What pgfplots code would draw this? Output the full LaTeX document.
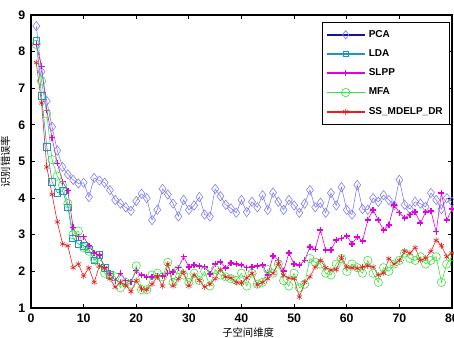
\documentclass[border=0pt]{standalone}
\usepackage{fontspec}
\setmainfont{Liberation Sans}
\newfontfamily\cjk{Noto Sans CJK SC}
\usepackage{pgfplots}
\pgfplotsset{compat=1.18}
\usepackage{pgfplotstable}
\definecolor{pcac}{RGB}{125,125,250}
\definecolor{pcad}{RGB}{20,20,140}
\definecolor{ldac}{RGB}{30,150,190}
\definecolor{ldad}{RGB}{20,60,150}
\definecolor{slppc}{RGB}{225,0,225}
\definecolor{mfac}{RGB}{60,225,60}
\definecolor{ssc}{RGB}{230,30,30}
\pgfplotstableread{
x y
1 8.7
2 7.45
3 6.65
4 5.95
5 5.3
6 4.85
7 4.65
8 4.5
9 4.4
10 4.42
11 4.03
12 4.55
13 4.48
14 4.42
15 4.22
16 3.95
17 3.85
18 3.75
19 3.65
20 3.92
21 4.12
22 4.0
23 3.4
24 3.68
25 4.25
26 4.1
27 3.85
28 3.5
29 3.95
30 3.68
31 3.8
32 4.03
33 3.55
34 3.5
35 4.25
36 4.05
37 3.82
38 3.72
39 3.6
40 3.95
41 3.62
42 3.9
43 3.75
44 4.08
45 3.68
46 4.15
47 3.9
48 3.68
49 3.95
50 3.8
51 3.6
52 3.85
53 4.22
54 3.75
55 3.87
56 3.6
57 4.14
58 3.8
59 4.3
60 3.68
61 3.55
62 4.36
63 3.7
64 3.68
65 4.0
66 3.9
67 4.08
68 3.95
69 3.8
70 4.5
71 3.82
72 3.7
73 3.9
74 3.85
75 3.76
76 4.14
77 3.95
78 3.7
79 4.0
80 3.9
}\pca
\pgfplotstableread{
x y
1 8.3
2 6.8
3 5.4
4 4.45
5 4.15
6 4.2
7 3.75
8 2.9
9 2.75
10 2.7
11 2.6
12 2.3
13 2.45
14 2.1
15 1.9
}\lda
\pgfplotstableread{
x y
1 8.2
2 7.6
3 6.4
4 5.65
5 4.95
6 4.45
7 4.2
8 3.2
9 2.95
10 2.95
11 2.7
12 2.5
13 2.45
14 2.1
15 1.95
16 1.75
17 1.95
18 1.75
19 1.72
20 2.02
21 1.9
22 1.85
23 1.85
24 1.87
25 1.87
26 1.95
27 1.98
28 2.1
29 2.4
30 2.12
31 2.17
32 2.15
33 2.12
34 1.93
35 2.2
36 2.26
37 2.09
38 2.23
39 2.2
40 2.17
41 2.1
42 2.12
43 2.15
44 2.17
45 1.9
46 2.42
47 2.3
48 2.01
49 2.5
50 2.2
51 2.17
52 2.3
53 2.67
54 2.6
55 3.13
56 2.58
57 2.58
58 2.86
59 2.9
60 2.97
61 2.75
62 2.94
63 2.83
64 3.4
65 3.68
66 3.4
67 3.13
68 3.27
69 3.81
70 3.6
71 3.46
72 3.55
73 3.62
74 3.32
75 3.62
76 3.65
77 3.08
78 4.14
79 3.4
80 3.7
}\slpp
\pgfplotstableread{
x y
1 8.2
2 7.2
3 6.3
4 5.05
5 4.6
6 4.35
7 3.85
8 3.0
9 3.1
10 2.65
11 2.55
12 2.35
13 2.2
14 1.95
15 1.9
16 1.85
17 1.55
18 1.7
19 1.65
20 2.15
21 1.5
22 1.5
23 1.9
24 1.95
25 1.85
26 2.25
27 1.7
28 2.05
29 1.9
30 1.7
31 1.95
32 1.75
33 2.0
34 1.6
35 2.05
36 1.9
37 1.85
38 1.8
39 1.75
40 1.95
41 1.6
42 1.95
43 1.65
44 1.7
45 2.05
46 1.95
47 2.2
48 1.75
49 1.6
50 1.95
51 1.55
52 1.65
53 2.35
54 2.25
55 2.2
56 1.95
57 1.9
58 2.2
59 2.35
60 2.0
61 2.2
62 2.1
63 1.95
64 2.3
65 1.95
66 1.7
67 2.1
68 2.0
69 2.2
70 2.3
71 2.5
72 2.35
73 2.3
74 2.4
75 2.2
76 2.3
77 2.4
78 1.7
79 2.2
80 2.4
}\mfa
\pgfplotstableread{
x y
1 7.7
2 6.6
3 4.85
4 4.1
5 3.35
6 2.75
7 2.7
8 2.1
9 2.2
10 1.87
11 2.1
12 1.7
13 2.15
14 2.1
15 1.8
16 1.57
17 1.7
18 1.62
19 1.45
20 1.75
21 1.52
22 1.5
23 1.65
24 1.85
25 1.6
26 2.2
27 1.6
28 1.8
29 1.98
30 1.6
31 1.9
32 1.75
33 1.57
34 1.65
35 1.8
36 2.05
37 1.85
38 1.82
39 1.7
40 1.68
41 1.82
42 1.95
43 1.63
44 1.7
45 1.8
46 1.95
47 2.22
48 1.9
49 1.82
50 1.8
51 1.3
52 1.7
53 1.85
54 2.12
55 2.3
56 2.1
57 2.04
58 2.05
59 2.38
60 2.12
61 2.1
62 2.08
63 2.12
64 2.15
65 2.12
66 1.9
67 1.95
68 2.35
69 2.2
70 2.3
71 2.55
72 2.5
73 2.65
74 2.3
75 2.36
76 2.55
77 2.85
78 2.7
79 2.4
80 2.5
}\ssm
\begin{document}
\begin{tikzpicture}
\begin{axis}[
  at={(0,0)}, anchor=south west,
  scale only axis, width=252.6pt, height=175.8pt,
  xmin=0, xmax=80, ymin=1, ymax=9,
  xtick={0,10,...,80}, ytick={1,...,9},
  axis line style={line width=0.8pt},
  tick style={black, line width=0.5pt},
  major tick length=2.5pt,
  ticklabel style={font=\fontsize{7.4}{8}\selectfont\bfseries},
  /pgf/number format/assume math mode=true,
  xlabel={\cjk\fontsize{6.2}{7}\selectfont 子空间维度},
  ylabel={\cjk\fontsize{6.2}{7}\selectfont 识别错误率},
  xlabel style={yshift=4pt, xshift=4pt},
  ylabel style={yshift=-2pt},
  legend cell align=left,
  legend style={at={(rel axis cs:0.995,0.976)}, anchor=north east,
    font=\fontsize{6}{7}\selectfont\bfseries, draw=black, line width=0.6pt,
    row sep=1.9pt, inner xsep=2pt, inner ysep=2.5pt},
  legend image code/.code={
    \draw[#1, line width=1pt] (0cm,0cm) -- (0.8cm,0cm);
    \draw[#1, line width=0.4pt] plot coordinates {(0.4cm,0cm)};},
]
\addplot[color=pcac, line width=0.35pt, mark=diamond, mark size=2.8pt, mark options={draw=pcac, fill=none},
  legend image code/.code={
    \draw[pcad, line width=1pt] (0cm,0cm) -- (0.8cm,0cm);
    \draw[pcac, line width=0.4pt, mark=diamond, mark size=2.5pt] plot coordinates {(0.4cm,0cm)};}] table {\pca};
\addlegendentry{PCA}
\addplot[color=ldac, line width=0.35pt, mark=square, mark size=2pt, mark options={draw=ldac},
  legend image code/.code={
    \draw[ldac, line width=1pt] (0cm,0cm) -- (0.8cm,0cm);
    \draw[ldad, line width=0.6pt, mark=square, mark size=1.6pt] plot coordinates {(0.4cm,0cm)};}] table {\lda};
\addlegendentry{LDA}
\addplot[color=slppc, line width=0.35pt, mark=+, mark size=1.8pt, mark options={draw=slppc, line width=0.8pt}] table {\slpp};
\addlegendentry{SLPP}
\addplot[color=mfac, line width=0.35pt, mark=o, mark size=2.5pt, mark options={draw=mfac}] table {\mfa};
\addlegendentry{MFA}
\addplot[color=ssc, line width=0.35pt, mark=asterisk, mark size=1.8pt, mark options={draw=ssc}] table {\ssm};
\addlegendentry{SS\_MDELP\_DR}
\end{axis}
\pgfresetboundingbox
\path (-18.6pt,-18pt) rectangle (253.8pt,184.8pt);
\end{tikzpicture}
\end{document}
